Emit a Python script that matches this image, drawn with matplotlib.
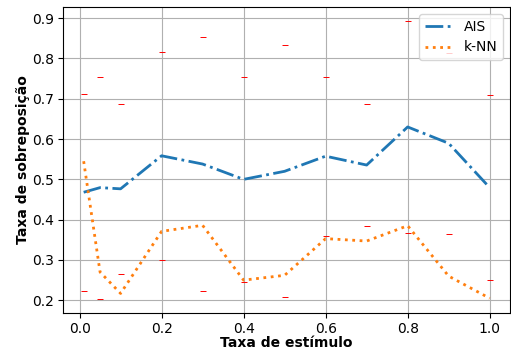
import matplotlib as mpl
mpl.use('Agg')
import matplotlib.pyplot as plt

# taxa de estimulo
rates = [0.01, 0.05, 0.1, 0.2, 0.3, 0.4, 0.5, 0.6, 0.7, 0.8, 0.9, 1.0]
ais_mean = [0.468, 0.4795, 0.4765, 0.5585, 0.538, 0.500, 0.520, 0.5575, 0.5355, 0.630, 0.5895, 0.4795]
ais_std = [0.244, 0.2755, 0.2105, 0.2585, 0.314, 0.255, 0.3125, 0.1975, 0.1515, 0.263, 0.2245, 0.2295]
knn_mean = [0.545, 0.270, 0.217, 0.371, 0.386, 0.250, 0.262, 0.353, 0.347, 0.385, 0.260, 0.205]

plt.figure(figsize=(5.11, 3.52), dpi=100)
plt.plot(rates, ais_mean, linestyle='-.', linewidth=2, color='tab:blue', label='AIS')
plt.plot(rates, knn_mean, linestyle=':', linewidth=2, color='tab:orange', label='k-NN')
plt.errorbar(rates, ais_mean, yerr=ais_std, fmt='none', ecolor='red', elinewidth=0,
             capsize=2.5, capthick=0.7)
plt.xlabel('Taxa de estímulo', fontsize=10, fontweight='bold', labelpad=0)
plt.ylabel('Taxa de sobreposição', fontsize=10, fontweight='bold', labelpad=1)
plt.xticks(fontsize=10)
plt.yticks(fontsize=10)
plt.grid(True)
plt.legend(loc='upper right', fontsize=10)
plt.subplots_adjust(left=0.124, right=0.998, top=0.980, bottom=0.112)
plt.savefig('out.png', dpi=100)
